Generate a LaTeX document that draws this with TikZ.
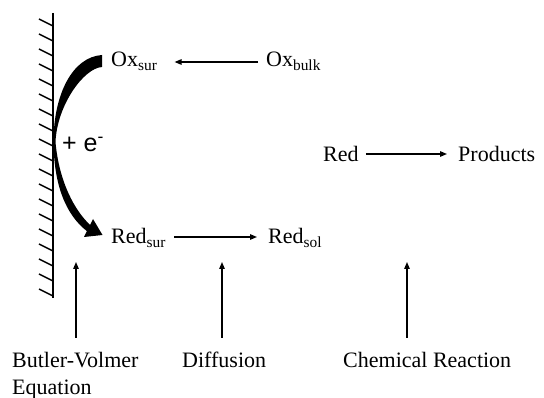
\documentclass[tikz,border=0pt]{standalone}
\usepackage{fontspec}
\setmainfont{Liberation Serif}
\newfontfamily\sansf{Liberation Sans}
\usetikzlibrary{arrows.meta}
\begin{document}
\begin{tikzpicture}[x=1pt,y=-1pt,
  lbl/.style={inner sep=0pt, anchor=base west, font=\fontsize{22}{27}\selectfont},
  arr/.style={line width=1.3pt, -{Triangle[length=7pt,width=5.5pt]}},
  hatch/.style={line width=1.4pt}]
\useasboundingbox (0,0) rectangle (544,398);
% electrode
\draw[hatch] (53,13) -- (53,298);
\foreach \k in {0,...,18} \draw[hatch] (39,19+15*\k) -- (53,26+15*\k);
% curved electron-transfer arrow
\fill (102,55) .. controls (72,57) and (54,95) .. (53.5,140)
  .. controls (53.5,185) and (66,215) .. (86.9,231.1)
  -- (84,237) -- (102.5,235) -- (93,219) -- (90.1,224.9)
  .. controls (75,211) and (59,182) .. (55.5,142)
  .. controls (57,105) and (84,68) .. (102,67) -- cycle;
% labels
\node[lbl] (oxsur) at (111,67) {Ox\textsubscript{sur}};
\node[lbl] (oxbulk) at (266,67) {Ox\textsubscript{bulk}};
\node[lbl] (redsur) at (111,244) {Red\textsubscript{sur}};
\node[lbl] (redsol) at (268,244) {Red\textsubscript{sol}};
\node[lbl] (red) at (323,162) {Red};
\node[lbl] (prod) at (458,162) {Products};
\node[inner sep=0pt, anchor=base west, font=\sansf\fontsize{25}{30}\selectfont] (elec) at (62,152) {+ e\textsuperscript{-}};
\node[lbl, align=left] (bv) at (12,394) {Butler-Volmer\\Equation};
\node[lbl] (diff) at (182,367) {Diffusion};
\node[lbl] (chem) at (343,367) {Chemical Reaction};
% horizontal arrows
\draw[arr] ([xshift=-8pt,yshift=5pt]oxbulk.base west) -- ([xshift=17pt,yshift=5pt]oxsur.base east);
\draw[arr] ([xshift=8pt,yshift=7pt]redsur.base east) -- ([xshift=-11pt,yshift=7pt]redsol.base west);
\draw[arr] ([xshift=7pt,yshift=8pt]red.base east) -- ([xshift=-11pt,yshift=8pt]prod.base west);
% vertical arrows
\coordinate (bvb) at (76,338);  \coordinate (bvt) at (76,262);
\coordinate (dfb) at (222,338); \coordinate (dft) at (222,262);
\coordinate (chb) at (407,338); \coordinate (cht) at (407,262);
\draw[arr] (bvb) -- (bvt);
\draw[arr] (dfb) -- (dft);
\draw[arr] (chb) -- (cht);
\end{tikzpicture}
\end{document}
